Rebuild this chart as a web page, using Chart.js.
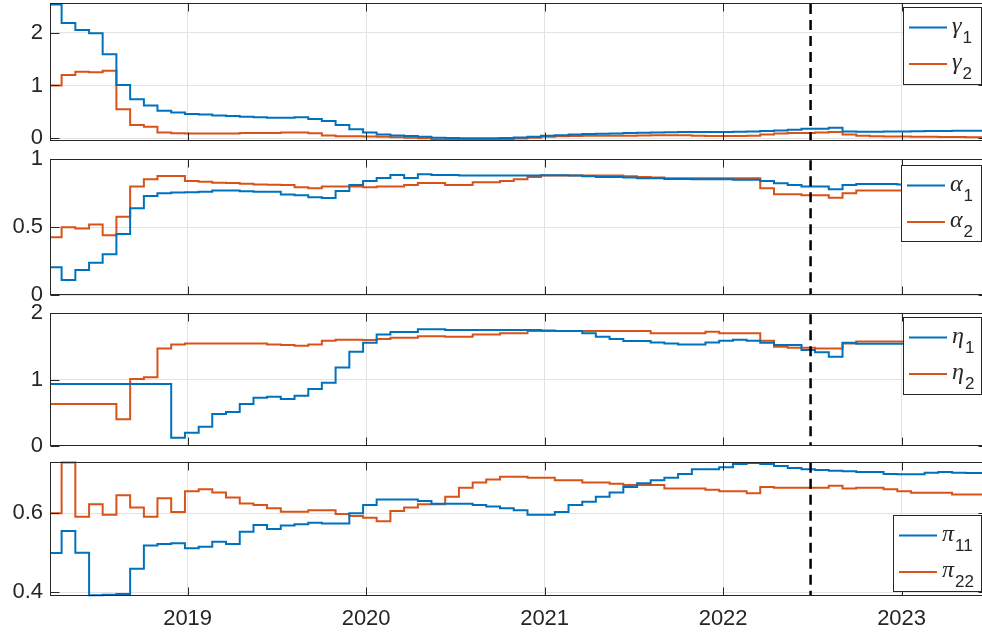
<!DOCTYPE html>
<html>
<head>
<meta charset="utf-8">
<script src="https://cdn.jsdelivr.net/npm/chart.js@4.4.1/dist/chart.umd.min.js"></script>
<style>
html,body{margin:0;padding:0;background:#fff;}
#wrap{position:relative;width:982px;height:637px;overflow:hidden;background:#fff;}
canvas{position:absolute;left:0;}
</style>
</head>
<body>
<div id="wrap">
<canvas id="c1" width="990" height="152" style="top:0px"></canvas>
<canvas id="c2" width="990" height="160" style="top:146px"></canvas>
<canvas id="c3" width="990" height="156" style="top:300px"></canvas>
<canvas id="c4" width="990" height="187" style="top:450px"></canvas>
</div>
<script>
// ---- data (decimal years; each value holds from stepEdges[i] to stepEdges[i+1]) ----
const stepEdges = [2018.229,
  2018.294, 2018.371, 2018.448, 2018.524, 2018.601, 2018.678, 2018.755, 2018.831, 2018.908, 2018.985,
  2019.062, 2019.138, 2019.215, 2019.292, 2019.369, 2019.445, 2019.522, 2019.599, 2019.676, 2019.752,
  2019.829, 2019.906, 2019.983, 2020.059, 2020.136, 2020.213, 2020.290, 2020.366, 2020.443, 2020.520,
  2020.597, 2020.673, 2020.750, 2020.827, 2020.904, 2020.980, 2021.057, 2021.134, 2021.211, 2021.287,
  2021.364, 2021.441, 2021.518, 2021.594, 2021.671, 2021.748, 2021.825, 2021.901, 2021.978, 2022.055,
  2022.132, 2022.208, 2022.285, 2022.362, 2022.439, 2022.515, 2022.592, 2022.669, 2022.746, 2022.822,
  2022.899, 2022.976, 2023.053, 2023.129, 2023.206, 2023.283, 2023.360, 2023.436,
  2023.484];

const gamma1 = [2.53,
  2.18, 2.05, 1.99, 1.59, 1.01, 0.74, 0.62, 0.52, 0.49, 0.46,
  0.45, 0.43, 0.42, 0.41, 0.40, 0.39, 0.39, 0.40, 0.365, 0.33,
  0.25, 0.17, 0.11, 0.07, 0.055, 0.045, 0.03, 0.01, 0.005, 0.0,
  0.0, 0.0, 0.005, 0.015, 0.03, 0.05, 0.06, 0.07, 0.08, 0.085,
  0.09, 0.10, 0.105, 0.11, 0.115, 0.12, 0.12, 0.12, 0.12, 0.125,
  0.13, 0.14, 0.15, 0.16, 0.18, 0.18, 0.20, 0.13, 0.125, 0.125,
  0.13, 0.13, 0.135, 0.14, 0.14, 0.145, 0.145, 0.145];
const gamma2 = [1.0,
  1.20, 1.26, 1.25, 1.28, 0.55, 0.25, 0.22, 0.11, 0.095, 0.09,
  0.09, 0.09, 0.09, 0.10, 0.10, 0.10, 0.11, 0.11, 0.095, 0.055,
  0.04, 0.04, 0.035, 0.03, 0.02, 0.01, 0.0, -0.02, -0.025, -0.025,
  -0.025, -0.025, -0.02, -0.005, 0.01, 0.03, 0.04, 0.045, 0.05, 0.05,
  0.05, 0.05, 0.055, 0.06, 0.06, 0.06, 0.05, 0.045, 0.045, 0.045,
  0.05, 0.07, 0.09, 0.10, 0.10, 0.11, 0.12, 0.07, 0.05, 0.04,
  0.035, 0.035, 0.03, 0.03, 0.025, 0.025, 0.02, 0.02];
const alpha1 = [0.204,
  0.11, 0.184, 0.238, 0.30, 0.45, 0.64, 0.73, 0.75, 0.755, 0.757,
  0.76, 0.77, 0.77, 0.765, 0.76, 0.76, 0.74, 0.735, 0.72, 0.715,
  0.766, 0.81, 0.84, 0.862, 0.884, 0.862, 0.889, 0.885, 0.885, 0.88,
  0.88, 0.88, 0.88, 0.88, 0.88, 0.882, 0.882, 0.88, 0.875, 0.87,
  0.87, 0.865, 0.86, 0.86, 0.855, 0.855, 0.853, 0.853, 0.853, 0.85,
  0.85, 0.84, 0.823, 0.81, 0.80, 0.80, 0.78, 0.81, 0.818, 0.818,
  0.818, 0.815, 0.81, 0.81, 0.805, 0.805, 0.80, 0.80];
const alpha2 = [0.425,
  0.50, 0.49, 0.52, 0.44, 0.577, 0.80, 0.853, 0.877, 0.877, 0.84,
  0.835, 0.828, 0.825, 0.82, 0.815, 0.813, 0.81, 0.794, 0.786, 0.80,
  0.80, 0.80, 0.794, 0.80, 0.80, 0.81, 0.826, 0.826, 0.81, 0.81,
  0.83, 0.83, 0.84, 0.853, 0.87, 0.88, 0.88, 0.88, 0.88, 0.88,
  0.88, 0.875, 0.87, 0.865, 0.86, 0.86, 0.86, 0.86, 0.86, 0.86,
  0.86, 0.786, 0.742, 0.742, 0.735, 0.735, 0.717, 0.75, 0.77, 0.77,
  0.77, 0.77, 0.77, 0.77, 0.765, 0.765, 0.765, 0.765];
const eta1 = [0.932,
  0.932, 0.932, 0.932, 0.932, 0.932, 0.932, 0.932, 0.932, 0.12, 0.196,
  0.287, 0.48, 0.51, 0.63, 0.725, 0.74, 0.705, 0.755, 0.857, 0.95,
  1.18, 1.42, 1.556, 1.68, 1.717, 1.717, 1.758, 1.758, 1.748, 1.748,
  1.748, 1.748, 1.748, 1.748, 1.748, 1.74, 1.733, 1.733, 1.70, 1.647,
  1.61, 1.58, 1.58, 1.56, 1.545, 1.53, 1.53, 1.56, 1.586, 1.60,
  1.586, 1.556, 1.52, 1.52, 1.445, 1.41, 1.345, 1.556, 1.54, 1.54,
  1.54, 1.54, 1.54, 1.54, 1.52, 1.50, 1.49, 1.48];
const eta2 = [0.63,
  0.63, 0.63, 0.63, 0.63, 0.40, 1.007, 1.033, 1.47, 1.53, 1.545,
  1.545, 1.545, 1.545, 1.545, 1.545, 1.53, 1.52, 1.51, 1.53, 1.586,
  1.60, 1.60, 1.595, 1.61, 1.63, 1.63, 1.652, 1.652, 1.645, 1.645,
  1.68, 1.68, 1.70, 1.70, 1.733, 1.733, 1.733, 1.733, 1.733, 1.733,
  1.733, 1.733, 1.733, 1.70, 1.70, 1.70, 1.70, 1.72, 1.70, 1.70,
  1.70, 1.586, 1.495, 1.48, 1.48, 1.47, 1.47, 1.545, 1.575, 1.575,
  1.575, 1.575, 1.575, 1.575, 1.575, 1.575, 1.575, 1.575];
const pi11 = [0.499,
  0.555, 0.50, 0.392, 0.393, 0.395, 0.459, 0.518, 0.522, 0.524, 0.511,
  0.515, 0.528, 0.522, 0.553, 0.57, 0.56, 0.569, 0.572, 0.576, 0.574,
  0.574, 0.60, 0.621, 0.635, 0.635, 0.635, 0.631, 0.624, 0.624, 0.624,
  0.621, 0.617, 0.613, 0.608, 0.596, 0.596, 0.603, 0.621, 0.629, 0.642,
  0.653, 0.667, 0.676, 0.684, 0.69, 0.70, 0.712, 0.712, 0.717, 0.725,
  0.728, 0.725, 0.72, 0.715, 0.712, 0.71, 0.708, 0.707, 0.705, 0.705,
  0.70, 0.699, 0.699, 0.703, 0.705, 0.703, 0.702, 0.702];
const pi22 = [0.60,
  0.729, 0.591, 0.623, 0.596, 0.646, 0.615, 0.591, 0.638, 0.603, 0.656,
  0.661, 0.653, 0.64, 0.625, 0.621, 0.613, 0.604, 0.604, 0.608, 0.608,
  0.598, 0.593, 0.589, 0.58, 0.606, 0.615, 0.623, 0.623, 0.642, 0.665,
  0.678, 0.686, 0.693, 0.693, 0.69, 0.69, 0.684, 0.684, 0.678, 0.678,
  0.675, 0.672, 0.672, 0.672, 0.663, 0.663, 0.663, 0.66, 0.656, 0.656,
  0.651, 0.667, 0.665, 0.665, 0.665, 0.665, 0.67, 0.663, 0.665, 0.665,
  0.661, 0.656, 0.652, 0.652, 0.652, 0.648, 0.648, 0.648];

const yearTicks = [2019, 2020, 2021, 2022, 2023];
const gammaTicks = [0, 1, 2];
const alphaTicks = [0, 0.5, 1];
const etaTicks = [0, 1, 2];
const piTicks = [0.4, 0.6];
const breakDate = 2022.49;
const legendNames = {
  gamma1: ['γ', '1'], gamma2: ['γ', '2'],
  alpha1: ['α', '1'], alpha2: ['α', '2'],
  eta1: ['η', '1'], eta2: ['η', '2'],
  pi11: ['π', '11'], pi22: ['π', '22']
};

// ---- styles ----
const BLUE = '#0072BD', ORANGE = '#D95319';
const TXT = '#262626', AXC = '#262626', GRID = '#e3e3e3';
const SANS = '"Liberation Sans", Arial, Helvetica, sans-serif';
const SERIF = '"Liberation Serif", "Times New Roman", serif';
const X_MIN = stepEdges[0], X_MAX = stepEdges[stepEdges.length - 1];

function stepPoints(vals) {
  const pts = [{x: stepEdges[0], y: vals[0]}];
  vals.forEach((v, i) => pts.push({x: stepEdges[i + 1], y: v}));
  return pts;
}

const matlabAxes = {
  id: 'matlabAxes',
  afterDatasetsDraw(chart, args, opts) {
    const {ctx, chartArea: a, scales: {x, y}} = chart;
    ctx.save();
    // dashed vertical marker
    const bx = x.getPixelForValue(breakDate);
    ctx.strokeStyle = '#000';
    ctx.lineWidth = 2.5;
    ctx.setLineDash([10, 6]);
    ctx.beginPath();
    ctx.moveTo(bx, a.top + 1);
    ctx.lineTo(bx, a.bottom);
    ctx.stroke();
    ctx.setLineDash([]);
    // box
    ctx.strokeStyle = AXC;
    ctx.lineWidth = 1;
    const L = Math.round(a.left) + 0.5, T = Math.round(a.top) + 0.5;
    const R = Math.round(a.right) - 0.5, B = Math.round(a.bottom) - 0.5;
    ctx.strokeRect(L, T, R - L, B - T);
    // inward ticks
    ctx.beginPath();
    x.ticks.forEach(t => {
      const px = Math.round(x.getPixelForValue(t.value)) + 0.5;
      ctx.moveTo(px, T); ctx.lineTo(px, T + 8);
      ctx.moveTo(px, B); ctx.lineTo(px, B - 8);
    });
    y.ticks.forEach(t => {
      const py = Math.round(y.getPixelForValue(t.value)) + 0.5;
      ctx.moveTo(L, py); ctx.lineTo(L + 9, py);
      ctx.moveTo(R, py); ctx.lineTo(R - 9, py);
    });
    ctx.stroke();
    ctx.restore();
  },
  afterDraw(chart, args, opts) {
    const {ctx, chartArea: a} = chart;
    const lg = opts.legend;
    const right = Math.round(a.right) - 7;
    const left = right - lg.w;
    const top = lg.anchor === 'ne' ? a.top + lg.inset : a.bottom - lg.inset - lg.h;
    ctx.save();
    ctx.fillStyle = '#fff';
    ctx.fillRect(left, top, lg.w, lg.h);
    ctx.strokeStyle = AXC;
    ctx.lineWidth = 1;
    ctx.strokeRect(Math.round(left) + 0.5, Math.round(top) + 0.5, Math.round(lg.w), Math.round(lg.h));
    chart.data.datasets.forEach((ds, i) => {
      const yy = top + 20.5 + i * 36.5;
      ctx.strokeStyle = ds.borderColor;
      ctx.lineWidth = 2;
      ctx.beginPath();
      ctx.moveTo(left + 6, yy);
      ctx.lineTo(left + 44, yy);
      ctx.stroke();
      const nm = legendNames[ds.label];
      ctx.fillStyle = TXT;
      ctx.textAlign = 'left';
      ctx.textBaseline = 'alphabetic';
      ctx.font = 'italic 24px ' + SERIF;
      ctx.fillText(nm[0], left + 49, yy + 5);
      const w = ctx.measureText(nm[0]).width;
      ctx.font = '17px ' + SANS;
      ctx.fillText(nm[1], left + 49 + w + 1, yy + 15);
    });
    ctx.restore();
  }
};

function makePanel(id, cfg) {
  const datasets = cfg.series.map(([name, vals, color]) => ({
    label: name,
    data: stepPoints(vals),
    borderColor: color,
    backgroundColor: color,
    borderWidth: 2,
    pointRadius: 0,
    stepped: 'after',
    fill: false,
    clip: 1
  }));
  return new Chart(document.getElementById(id), {
    type: 'line',
    data: {datasets},
    options: {
      responsive: false,
      animation: false,
      events: [],
      layout: {padding: {left: 0, right: 2, top: cfg.padTop, bottom: cfg.padBottom}},
      plugins: {
        legend: {display: false},
        tooltip: {enabled: false},
        matlabAxes: {legend: cfg.legend}
      },
      scales: {
        x: {
          type: 'linear',
          min: X_MIN, max: X_MAX,
          afterBuildTicks: s => { s.ticks = yearTicks.map(v => ({value: v})); },
          afterFit: s => { s.height = cfg.xHeight; s.paddingLeft = 0; s.paddingRight = 0; },
          grid: {color: GRID, lineWidth: 1, drawTicks: false},
          border: {display: false},
          ticks: {
            display: cfg.xLabels,
            color: TXT,
            padding: 10,
            maxRotation: 0,
            autoSkip: false,
            font: {family: SANS, size: 22},
            callback: v => String(v)
          }
        },
        y: {
          type: 'linear',
          min: cfg.yMin, max: cfg.yMax,
          afterBuildTicks: s => { s.ticks = cfg.yTicks.map(v => ({value: v})); },
          afterFit: s => { s.width = 50; s.paddingTop = 0; s.paddingBottom = 0; },
          grid: {color: GRID, lineWidth: 1, drawTicks: false},
          border: {display: false},
          ticks: {
            color: TXT,
            padding: 7,
            font: {family: SANS, size: 22},
            callback: v => String(v)
          }
        }
      }
    },
    plugins: [matlabAxes]
  });
}

makePanel('c1', {
  series: [['gamma1', gamma1, BLUE], ['gamma2', gamma2, ORANGE]],
  yMin: -0.045, yMax: 2.56, yTicks: gammaTicks,
  padTop: 3, padBottom: 11.3, xHeight: 0, xLabels: false,
  legend: {anchor: 'ne', inset: 4, w: 78, h: 77}
});
makePanel('c2', {
  series: [['alpha1', alpha1, BLUE], ['alpha2', alpha2, ORANGE]],
  yMin: 0, yMax: 1, yTicks: alphaTicks,
  padTop: 13.3, padBottom: 11, xHeight: 0, xLabels: false,
  legend: {anchor: 'ne', inset: 5.7, w: 80, h: 76}
});
makePanel('c3', {
  series: [['eta1', eta1, BLUE], ['eta2', eta2, ORANGE]],
  yMin: 0, yMax: 2, yTicks: etaTicks,
  padTop: 13.3, padBottom: 10.3, xHeight: 0, xLabels: false,
  legend: {anchor: 'ne', inset: 3.7, w: 78, h: 77}
});
makePanel('c4', {
  series: [['pi11', pi11, BLUE], ['pi22', pi22, ORANGE]],
  yMin: 0.39, yMax: 0.731, yTicks: piTicks,
  padTop: 11.7, padBottom: 0, xHeight: 41, xLabels: true,
  legend: {anchor: 'se', inset: 5, w: 88, h: 76}
});
</script>
</body>
</html>
